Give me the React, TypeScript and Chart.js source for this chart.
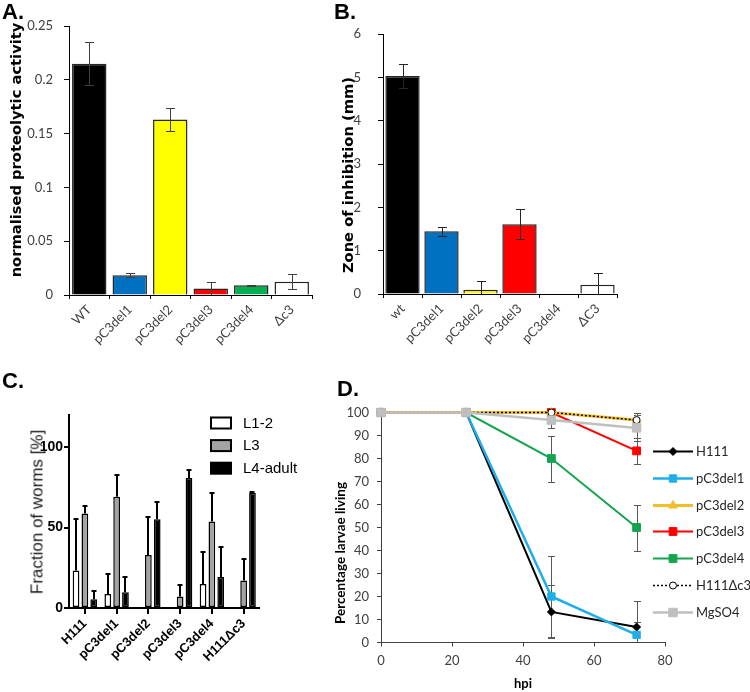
import React, { useEffect, useRef } from 'react';
import { Chart, registerables } from 'chart.js';

Chart.register(...registerables);

// ---------- Panel A ----------
const catsA = ['WT', 'pC3del1', 'pC3del2', 'pC3del3', 'pC3del4', 'Δc3'];
const valsA = [0.215, 0.0183, 0.163, 0.006, 0.009, 0.0124];
const errA = [0.02, 0.0017, 0.0105, 0.006, 0.0005, 0.007];
const colorsA = ['#000000', '#0070C0', '#FFFF00', '#FF0000', '#00B050', '#FFFFFF'];

// ---------- Panel B ----------
const catsB = ['wt', 'pC3del1', 'pC3del2', 'pC3del3', 'pC3del4', 'ΔC3'];
const valsB = [5.03, 1.45, 0.1, 1.61, 0, 0.215];
const errB = [0.27, 0.1, 0.21, 0.35, 0, 0.26];
const colorsB = ['#000000', '#0070C0', '#FFFF00', '#FF0000', '#00B050', '#FFFFFF'];

// ---------- Panel C ----------
const catsC = ['H111', 'pC3del1', 'pC3del2', 'pC3del3', 'pC3del4', 'H111Δc3'];
const stageNames = ['L1-2', 'L3', 'L4-adult'];
const l12 = [23.3, 8.75, 0, 0, 15, 0];
const l12Err = [32, 12.3, 0, 0, 19.8, 0];
const l3 = [58.75, 69.2, 32.9, 7.1, 53.75, 17.1];
const l3Err = [4.8, 13.5, 23.8, 7.3, 17.7, 13.5];
const l4 = [5.4, 9.8, 55.2, 80.8, 19.2, 71.5];
const l4Err = [5.4, 9.6, 11, 5, 18.5, 0.6];
const yTicksC = [0, 50, 100];

// ---------- Panel D ----------
const hours = [0, 24, 48, 72];
const h111 = [100, 100, 13.3, 6.7];
const h111Err = [0, 0, 11.5, 11.5];
const del1 = [100, 100, 20, 3.3];
const del1Err = [0, 0, 17.4, 5.8];
const del2 = [100, 100, 100, 96.7];
const del2Err = [0, 0, 0, 3.3];
const del3 = [100, 100, 100, 83.3];
const del3Err = [0, 0, 0, 5.8];
const del4 = [100, 100, 80, 50];
const del4Err = [0, 0, 10, 10];
const dc3 = [100, 100, 100, 96.7];
const dc3Err = [0, 0, 0, 3.3];
const mg = [100, 100, 96.7, 93.3];
const mgErr = [0, 0, 3.3, 5.8];

const LATO = 'Lato, "Open Sans", sans-serif';
const ARIAL = '"Liberation Sans", Arial, sans-serif';
const DEJAVU = '"DejaVu Sans", Verdana, sans-serif';

function drawErrorBars(chart: any, o: any) {
  const { ctx, chartArea } = chart;
  ctx.save();
  ctx.beginPath();
  ctx.rect(chartArea.left - 10, chartArea.top - 6, chartArea.right - chartArea.left + 20, chartArea.bottom - chartArea.top + 6);
  ctx.clip();
  ctx.strokeStyle = o.color;
  ctx.lineWidth = o.width;
  const off = o.width % 2 === 1 ? 0.5 : 0;
  chart.data.datasets.forEach((ds: any, di: number) => {
    const errs = ds.errors;
    if (!errs) return;
    const meta = chart.getDatasetMeta(di);
    const ys = chart.scales[meta.yAxisID];
    meta.data.forEach((el: any, i: number) => {
      const e = errs[i];
      if (!e) return;
      const d = ds.data[i];
      const v = typeof d === 'number' ? d : d.y;
      const x = Math.round(el.x) + off;
      const yTop = Math.round(ys.getPixelForValue(v + e)) + off;
      const yBot = o.upOnly ? el.y : Math.round(ys.getPixelForValue(v - e)) + off;
      ctx.beginPath();
      ctx.moveTo(x, yBot);
      ctx.lineTo(x, yTop);
      ctx.moveTo(x - o.cap, yTop);
      ctx.lineTo(x + o.cap, yTop);
      if (!o.upOnly) {
        ctx.moveTo(x - o.cap, yBot);
        ctx.lineTo(x + o.cap, yBot);
      }
      ctx.stroke();
    });
  });
  ctx.restore();
}

const errorBarPlugin = {
  id: 'errorBars',
  beforeDatasetsDraw(chart: any, _a: any, o: any) {
    if (o && o.before) drawErrorBars(chart, o);
  },
  afterDatasetsDraw(chart: any, _a: any, o: any) {
    if (o && !o.before) drawErrorBars(chart, o);
  },
};

// tick marks at category centres (panel C)
const centerTicksPlugin = {
  id: 'centerTicks',
  afterDraw(chart: any) {
    const { ctx } = chart;
    const xs = chart.scales.x;
    ctx.save();
    ctx.strokeStyle = '#000';
    ctx.lineWidth = 2;
    ctx.beginPath();
    xs.ticks.forEach((_t: any, i: number) => {
      const x = Math.round(xs.getPixelForValue(i));
      ctx.moveTo(x, xs.top);
      ctx.lineTo(x, xs.top + 6);
    });
    ctx.stroke();
    ctx.restore();
  },
};

function drawMarker(ctx: any, style: string, x: number, y: number, r: number, fill: string, stroke: string) {
  ctx.beginPath();
  if (style === 'rect') {
    const s = r * Math.SQRT1_2;
    ctx.rect(x - s, y - s, 2 * s, 2 * s);
  } else if (style === 'rectRot') {
    ctx.moveTo(x - r, y);
    ctx.lineTo(x, y - r);
    ctx.lineTo(x + r, y);
    ctx.lineTo(x, y + r);
    ctx.closePath();
  } else if (style === 'triangle') {
    ctx.moveTo(x, y - r);
    ctx.lineTo(x + 0.866 * r, y + 0.5 * r);
    ctx.lineTo(x - 0.866 * r, y + 0.5 * r);
    ctx.closePath();
  } else {
    ctx.arc(x, y, r, 0, Math.PI * 2);
  }
  ctx.fillStyle = fill;
  ctx.fill();
  ctx.lineWidth = 1;
  ctx.strokeStyle = stroke;
  ctx.stroke();
}

const legendCPlugin = {
  id: 'legendC',
  afterDraw(chart: any) {
    const ctx = chart.ctx;
    ctx.save();
    chart.data.datasets.forEach((ds: any, i: number) => {
      const y = 47.5 + 22.6 * i;
      ctx.fillStyle = ds.backgroundColor;
      ctx.fillRect(211, y, 20, 11);
      ctx.strokeStyle = '#000';
      ctx.lineWidth = 2;
      ctx.strokeRect(211, y, 20, 11);
      ctx.fillStyle = '#000';
      ctx.font = '15px ' + ARIAL;
      ctx.textBaseline = 'middle';
      ctx.textAlign = 'left';
      ctx.fillText(ds.label, 243, y + 6);
    });
    ctx.restore();
  },
};

const legendDPlugin = {
  id: 'legendD',
  afterDraw(chart: any) {
    const ctx = chart.ctx;
    ctx.save();
    chart.data.datasets.forEach((ds: any, i: number) => {
      const y = Math.round(81 + 26.8 * i) + 0.5;
      ctx.beginPath();
      ctx.setLineDash(ds.borderDash || []);
      ctx.strokeStyle = ds.borderColor;
      ctx.lineWidth = ds.borderWidth;
      ctx.moveTo(323, y);
      ctx.lineTo(363, y);
      ctx.stroke();
      ctx.setLineDash([]);
      drawMarker(ctx, ds.pointStyle, 343, y, ds.pointRadius, ds.pointBackgroundColor, ds.pointBorderColor);
      ctx.fillStyle = '#262626';
      ctx.font = '13px ' + LATO;
      ctx.textBaseline = 'middle';
      ctx.textAlign = 'left';
      ctx.fillText(ds.label, 366, y + 0.5);
    });
    ctx.restore();
  },
};

function barAxes(yMax: number, step: number, yWidth: number, xHeight: number, tickFont: any) {
  return {
    x: {
      grid: { drawOnChartArea: false, tickLength: 4, color: '#000', offset: true },
      border: { color: '#000', width: 1 },
      ticks: { minRotation: 45, maxRotation: 45, autoSkip: false, padding: 3, color: '#404040', font: tickFont },
      afterFit: (s: any) => { s.height = xHeight; },
    },
    y: {
      min: 0,
      max: yMax,
      grid: { drawOnChartArea: false, tickLength: 5, color: '#000' },
      border: { color: '#000', width: 1 },
      ticks: {
        stepSize: step,
        padding: 11,
        color: '#404040',
        font: tickFont,
        callback: (v: any) => String(Math.round(Number(v) * 100) / 100),
      },
      afterFit: (s: any) => { s.width = yWidth; },
    },
  };
}

function configA(): any {
  return {
    type: 'bar',
    data: {
      labels: catsA,
      datasets: [{
        data: valsA,
        errors: errA,
        backgroundColor: colorsA,
        borderColor: '#262626',
        borderWidth: 1.5,
        categoryPercentage: 1,
        barPercentage: 0.85,
      }],
    },
    options: {
      animation: false,
      responsive: false,
      devicePixelRatio: 1,
      layout: { padding: { top: 26, right: 33, left: 0, bottom: 0 } },
      plugins: {
        legend: { display: false },
        tooltip: { enabled: false },
        errorBars: { color: '#404040', width: 1, cap: 4.5 },
      },
      scales: barAxes(0.25, 0.05, 69, 75, { family: LATO, size: 13 }),
    },
    plugins: [errorBarPlugin],
  };
}

function configB(): any {
  const sc: any = barAxes(6, 1, 53, 76, { family: LATO, size: 13 });
  sc.y.ticks.padding = 17;
  return {
    type: 'bar',
    data: {
      labels: catsB,
      datasets: [{
        data: valsB,
        errors: errB,
        backgroundColor: colorsB,
        borderColor: '#262626',
        borderWidth: 1.5,
        categoryPercentage: 1,
        barPercentage: 0.88,
      }],
    },
    options: {
      animation: false,
      responsive: false,
      devicePixelRatio: 1,
      layout: { padding: { top: 34, right: 43, left: 0, bottom: 0 } },
      plugins: {
        legend: { display: false },
        tooltip: { enabled: false },
        errorBars: { color: '#262626', width: 1, cap: 4.5 },
      },
      scales: sc,
    },
    plugins: [errorBarPlugin],
  };
}

function configC(): any {
  const mk = (label: string, data: number[], errors: number[], color: string) => ({
    label,
    data,
    errors,
    backgroundColor: color,
    borderColor: '#000',
    borderWidth: 1.5,
    borderSkipped: false,
    categoryPercentage: 0.835,
    barPercentage: 0.76,
  });
  return {
    type: 'bar',
    data: {
      labels: catsC,
      datasets: [
        mk(stageNames[0], l12, l12Err, '#FFFFFF'),
        mk(stageNames[1], l3, l3Err, '#A3A3A3'),
        mk(stageNames[2], l4, l4Err, '#000000'),
      ],
    },
    options: {
      animation: false,
      responsive: false,
      devicePixelRatio: 1,
      layout: { padding: { top: 45, right: 70.5, left: 0, bottom: 0 } },
      plugins: {
        legend: { display: false },
        tooltip: { enabled: false },
        errorBars: { color: '#000', width: 2, cap: 2.5, upOnly: true },
      },
      scales: {
        x: {
          grid: { drawOnChartArea: false, drawTicks: false, tickLength: 6, color: '#000' },
          border: { color: '#000', width: 2 },
          ticks: { minRotation: 45, maxRotation: 45, autoSkip: false, padding: 8, color: '#000', font: { family: ARIAL, size: 13, weight: 'bold' } },
          afterFit: (s: any) => { s.height = 84; },
        },
        y: {
          min: 0,
          max: 120,
          grid: { drawOnChartArea: false, tickLength: 5, color: '#000', lineWidth: 2 },
          border: { color: '#000', width: 2 },
          afterBuildTicks: (s: any) => { s.ticks = yTicksC.map((v) => ({ value: v })); },
          ticks: { padding: 1, color: '#000', font: { family: ARIAL, size: 14, weight: 'bold' } },
          afterFit: (s: any) => { s.width = 69; },
        },
      },
    },
    plugins: [errorBarPlugin, centerTicksPlugin, legendCPlugin],
  };
}

function configD(): any {
  const xy = (vals: number[]) => hours.map((h, i) => ({ x: h, y: vals[i] }));
  const mk = (label: string, vals: number[], errors: number[], color: string, style: string, r: number, order: number, extra: any = {}) => ({
    label,
    data: xy(vals),
    errors,
    borderColor: color,
    backgroundColor: color,
    borderWidth: 2,
    pointStyle: style,
    pointRadius: r,
    pointBorderWidth: 1,
    pointBackgroundColor: color,
    pointBorderColor: color,
    order,
    clip: false,
    ...extra,
  });
  return {
    type: 'line',
    data: {
      datasets: [
        mk('H111', h111, h111Err, '#000000', 'rectRot', 4, 6),
        mk('pC3del1', del1, del1Err, '#1EAEE8', 'rect', 5.2, 5, { borderWidth: 2.5 }),
        mk('pC3del2', del2, del2Err, '#F2BE2A', 'triangle', 5, 2, { borderWidth: 3 }),
        mk('pC3del3', del3, del3Err, '#FF0000', 'rect', 5.5, 3),
        mk('pC3del4', del4, del4Err, '#13A54E', 'rect', 5.5, 4),
        mk('H111Δc3', dc3, dc3Err, '#000000', 'circle', 3.5, 1, { borderWidth: 1.5, borderDash: [2, 2], pointBackgroundColor: '#FFFFFF' }),
        mk('MgSO4', mg, mgErr, '#BFBFBF', 'rect', 6, 0, { borderWidth: 2.5 }),
      ],
    },
    options: {
      animation: false,
      responsive: false,
      devicePixelRatio: 1,
      layout: { padding: { top: 42.5, right: 85, left: 0, bottom: 0 } },
      plugins: {
        legend: { display: false },
        tooltip: { enabled: false },
        errorBars: { color: '#595959', width: 1, cap: 3.5, before: true },
      },
      scales: {
        x: {
          type: 'linear',
          min: 0,
          max: 80,
          grid: { drawOnChartArea: false, tickLength: 4, color: '#404040' },
          border: { color: '#404040', width: 1 },
          ticks: { stepSize: 20, padding: 7, color: '#404040', font: { family: LATO, size: 13 } },
          title: { display: true, text: 'hpi', color: '#000', font: { family: LATO, size: 13, weight: 'bold' }, padding: { top: 0, bottom: 0 } },
          afterFit: (s: any) => { s.height = 49.5; },
        },
        y: {
          min: 0,
          max: 100,
          grid: { drawOnChartArea: false, tickLength: 4, color: '#404040' },
          border: { color: '#404040', width: 1 },
          ticks: { stepSize: 10, padding: 8, color: '#404040', font: { family: LATO, size: 13 } },
          afterFit: (s: any) => { s.width = 51; },
        },
      },
    },
    plugins: [errorBarPlugin, legendDPlugin],
  };
}

function ChartCanvas({ make, left, top, width, height }: any) {
  const ref = useRef<HTMLCanvasElement>(null);
  useEffect(() => {
    const chart = new Chart(ref.current as HTMLCanvasElement, make());
    return () => chart.destroy();
  }, []);
  return (
    <canvas
      ref={ref}
      width={width}
      height={height}
      style={{ position: 'absolute', left, top, width, height }}
    />
  );
}

function Letter({ text, left, top }: any) {
  return (
    <div style={{ position: 'absolute', left, top, font: `bold 22px ${ARIAL}`, lineHeight: '22px', color: '#000' }}>
      {text}
    </div>
  );
}

function VTitle({ text, cx, cy, font, color = '#000' }: any) {
  return (
    <div
      style={{
        position: 'absolute',
        left: cx,
        top: cy,
        transform: 'translate(-50%, -50%) rotate(-90deg)',
        whiteSpace: 'nowrap',
        font,
        lineHeight: 1,
        color,
      }}
    >
      {text}
    </div>
  );
}

export default function App() {
  return (
    <div style={{ position: 'fixed', left: 0, top: 0, width: 750, height: 692, background: '#fff', overflow: 'hidden' }}>
      <ChartCanvas make={configA} left={0} top={0} width={345} height={370} />
      <ChartCanvas make={configB} left={330} top={0} width={330} height={370} />
      <ChartCanvas make={configC} left={0} top={370} width={330} height={322} />
      <ChartCanvas make={configD} left={330} top={370} width={420} height={322} />
      <Letter text="A." left={2} top={1} />
      <Letter text="B." left={334} top={1} />
      <Letter text="C." left={2} top={370} />
      <Letter text="D." left={337} top={378} />
      <VTitle text="normalised proteolytic activity" cx={16} cy={150} font={`bold 14.7px ${DEJAVU}`} />
      <VTitle text="Zone of inhibition (mm)" cx={348} cy={175} font={`bold 14.7px ${DEJAVU}`} />
      <VTitle text="Fraction of worms [%]" cx={37} cy={512} font={`17px ${ARIAL}`} color="#1a1a1a" />
      <VTitle text="Percentage larvae living" cx={341} cy={553} font={`bold 13.5px ${LATO}`} />
    </div>
  );
}
